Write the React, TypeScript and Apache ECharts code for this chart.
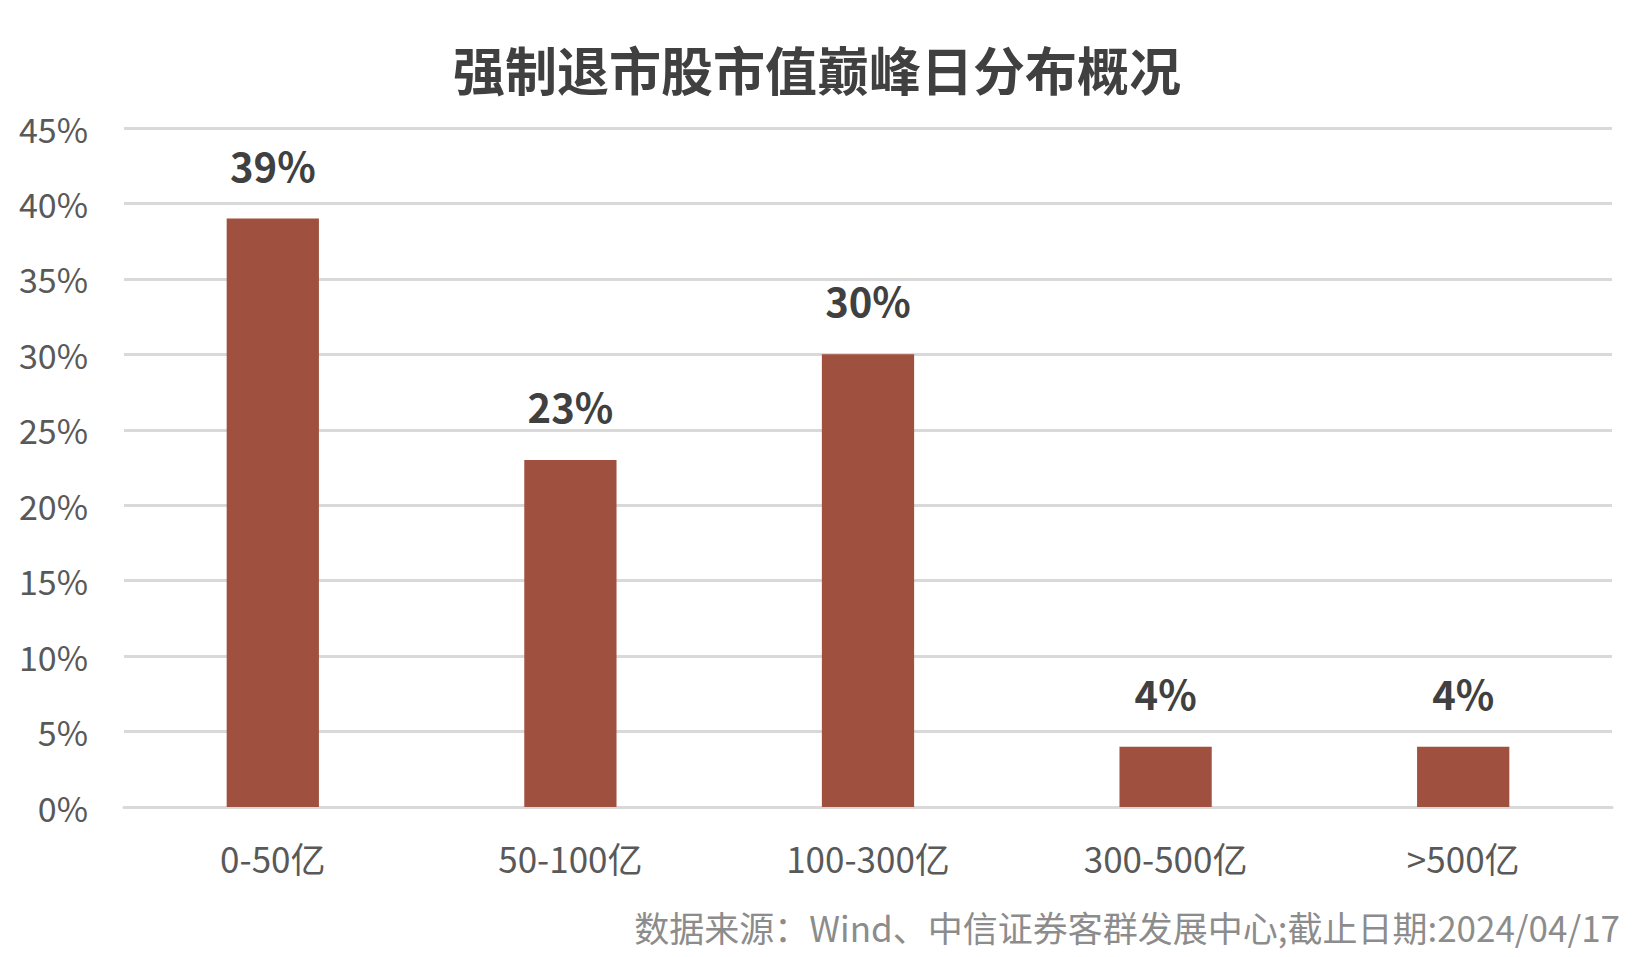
import React, { useEffect, useRef } from 'react';
import * as echarts from 'echarts';

const categories = ['0-50亿', '50-100亿', '100-300亿', '300-500亿', '>500亿'];
const shares = [39, 23, 30, 4, 4];
const titleText = '强制退市股市值巅峰日分布概况';
const sourceText = '数据来源：Wind、中信证券客群发展中心;截止日期:2024/04/17';

const FONT = '"Noto Sans CJK SC", "Noto Sans", sans-serif';

const App: React.FC = () => {
  const chartRef = useRef<HTMLDivElement>(null);

  useEffect(() => {
    if (!chartRef.current) return;
    const chart = echarts.init(chartRef.current, undefined, { renderer: 'svg' });
    chart.setOption({
      animation: false,
      backgroundColor: '#ffffff',
      title: {
        text: titleText,
        left: 'center',
        top: 37,
        textStyle: { fontFamily: FONT, fontSize: 52, fontWeight: 'bold', color: '#404040' },
      },
      grid: { left: 124, right: 22, top: 128, bottom: 150 },
      xAxis: {
        type: 'category',
        data: categories,
        axisLine: { lineStyle: { color: '#d9d9d9', width: 3 } },
        axisTick: { show: false },
        axisLabel: { margin: 33, fontFamily: FONT, fontSize: 35, color: '#595959' },
      },
      yAxis: {
        type: 'value',
        min: 0,
        max: 45,
        interval: 5,
        axisLine: { show: false },
        axisTick: { show: false },
        splitLine: { lineStyle: { color: '#d9d9d9', width: 3 } },
        axisLabel: {
          margin: 36,
          fontFamily: FONT,
          fontSize: 34,
          color: '#595959',
          formatter: (v: number) => `${v}%`,
        },
      },
      series: [
        {
          type: 'bar',
          data: shares,
          barWidth: '31%',
          itemStyle: { color: '#a0503f' },
          label: {
            show: true,
            position: 'top',
            distance: 34,
            formatter: (p: any) => `${p.value}%`,
            fontFamily: FONT,
            fontSize: 40,
            fontWeight: 'bold',
            color: '#404040',
          },
        },
      ],
      graphic: [
        {
          type: 'text',
          right: 14,
          top: 909,
          style: { text: sourceText, font: `35px ${FONT}`, fill: '#8c8c8c' },
        },
      ],
    });
    return () => chart.dispose();
  }, []);

  return (
    <div
      ref={chartRef}
      style={{ position: 'fixed', left: 0, top: 0, width: '1634px', height: '957px' }}
    />
  );
};

export default App;
